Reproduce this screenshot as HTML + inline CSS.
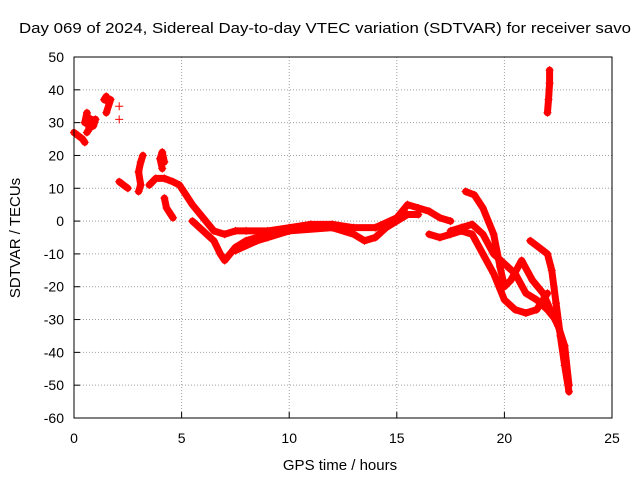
<!DOCTYPE html>
<html><head><meta charset="utf-8"><style>
body{margin:0;background:#fff}
svg{display:block;font-family:"Liberation Sans",sans-serif}
</style></head><body>
<svg id="chart" width="640" height="480">
<rect width="640" height="480" fill="#fff"/>
<text x="325" y="33" font-size="15" text-anchor="middle" textLength="612" lengthAdjust="spacingAndGlyphs">Day 069 of 2024, Sidereal Day-to-day VTEC variation (SDTVAR) for receiver savo</text>
<text x="340" y="470" font-size="15" text-anchor="middle">GPS time / hours</text>
<text x="20" y="238" font-size="15" text-anchor="middle" transform="rotate(-90 20 238)">SDTVAR / TECUs</text>
<g id="grid"></g><g id="marks"></g>
<rect x="74" y="57" width="538" height="361" fill="none" stroke="#000"/>
</svg>
<script>
const xTicks=[0,5,10,15,20,25];
const yTicks=[50,40,30,20,10,0,-10,-20,-30,-40,-50,-60];
const track1=[[0,27],[0.2,26],[0.4,25],[0.5,24]];
const track2=[[0.5,30],[0.6,33],[0.7,28],[0.8,31],[0.9,29],[1.0,31],[0.6,27]];
const track3=[[1.4,37],[1.5,38],[1.6,36],[1.7,37],[1.5,33]];
const track4=[[2.1,35],[2.1,31]];
const track5=[[2.1,12],[2.3,11],[2.5,10]];
const track6=[[3.0,9],[3.1,11],[3.0,15],[3.1,18],[3.2,20]];
const track7=[[3.5,11],[3.8,13],[4.2,13],[4.6,12],[4.9,11],[5.2,8],[5.5,5],[6,1],[6.5,-3],[7,-4],[7.5,-3],[8,-3],[9,-3],[10,-2],[11,-1],[12,-1],[13,-2],[14,-2],[15,1],[15.5,5],[16,4],[16.5,3],[17,1],[17.5,0]];
const track8=[[5.5,0],[6,-3],[6.5,-6],[6.8,-10],[7,-12],[7.5,-8],[8,-6],[9,-4],[10,-3],[12,-2],[13,-4],[13.5,-6],[14,-5],[14.5,-2],[15.5,2],[16,2]];
const track9=[[4.1,16],[4.0,19],[4.1,21],[4.2,18]];
const track10=[[4.2,7],[4.3,4],[4.5,2],[4.6,1]];
const track11=[[7.5,-9],[8.5,-6],[9,-5],[10,-3]];
const track12=[[16.5,-4],[17,-5],[17.5,-4],[18,-3],[18.5,-4],[19,-10],[19.5,-16],[20,-24],[20.5,-27],[21,-28],[21.5,-27],[22,-22]];
const track13=[[18.2,9],[18.6,8],[19,4],[19.5,-4],[19.8,-14],[20,-20],[20.3,-18],[20.8,-12],[21.3,-18],[21.8,-22],[22.2,-28],[22.5,-32],[22.8,-38],[23,-50]];
const track14=[[17.5,-3],[18,-2],[18.5,-1],[19,-4],[19.5,-10],[20,-13],[20.5,-16],[21,-22],[21.5,-24],[22,-27],[22.5,-31]];
const track15=[[21.2,-6],[21.6,-8],[22,-10],[22.2,-15],[22.4,-25],[22.6,-35],[22.8,-44],[23,-52]];
const track16=[[22,33],[22.05,37],[22.1,42],[22.1,46]];
const tracks=[track1,track2,track3,track4,track5,track6,track7,track8,track9,track10,track11,track12,track13,track14,track15,track16];
const NS='http://www.w3.org/2000/svg';
const X=v=>74+v*(538/25);
const Y=v=>57+(50-v)*(361/110);
const grid=document.getElementById('grid'),marks=document.getElementById('marks');
function mk(tag,attrs,parent){const e=document.createElementNS(NS,tag);for(const k in attrs)e.setAttribute(k,attrs[k]);parent.appendChild(e);return e;}
xTicks.forEach(t=>{
  const l=mk('line',{x1:X(t),x2:X(t),y1:57,y2:418,stroke:'#a0a0a0','stroke-dasharray':'1,2'},grid);
  
  
  mk('line',{x1:X(t),x2:X(t),y1:418,y2:412,stroke:'#000'},grid);
  const tx=mk('text',{x:X(t),y:443,'font-size':14,'text-anchor':'middle'},grid);tx.textContent=t;
  
  
});
yTicks.forEach(t=>{
  const l=mk('line',{x1:74,x2:612,y1:Y(t),y2:Y(t),stroke:'#a0a0a0','stroke-dasharray':'1,2'},grid);
  
  
  mk('line',{x1:74,x2:80,y1:Y(t),y2:Y(t),stroke:'#000'},grid);
  const tx=mk('text',{x:64,y:Y(t)+5,'font-size':14,'text-anchor':'end'},grid);tx.textContent=t;
  
  
});
tracks.forEach(tr=>{
  if(tr.length>2){
    const p=mk('polyline',{points:tr.map(d=>X(d[0])+','+Y(d[1])).join(' '),fill:'none',stroke:'#f00','stroke-width':7,'stroke-linejoin':'round','stroke-linecap':'round'},marks);
    
    
  }
  tr.forEach(d=>{
    const x=X(d[0]),y=Y(d[1]);
    const m=mk('path',{d:`M${x-4},${y}H${x+4}M${x},${y-4}V${y+4}`,stroke:'#f00','stroke-width':1},marks);
    
    
  });
});
</script>
</body></html>
